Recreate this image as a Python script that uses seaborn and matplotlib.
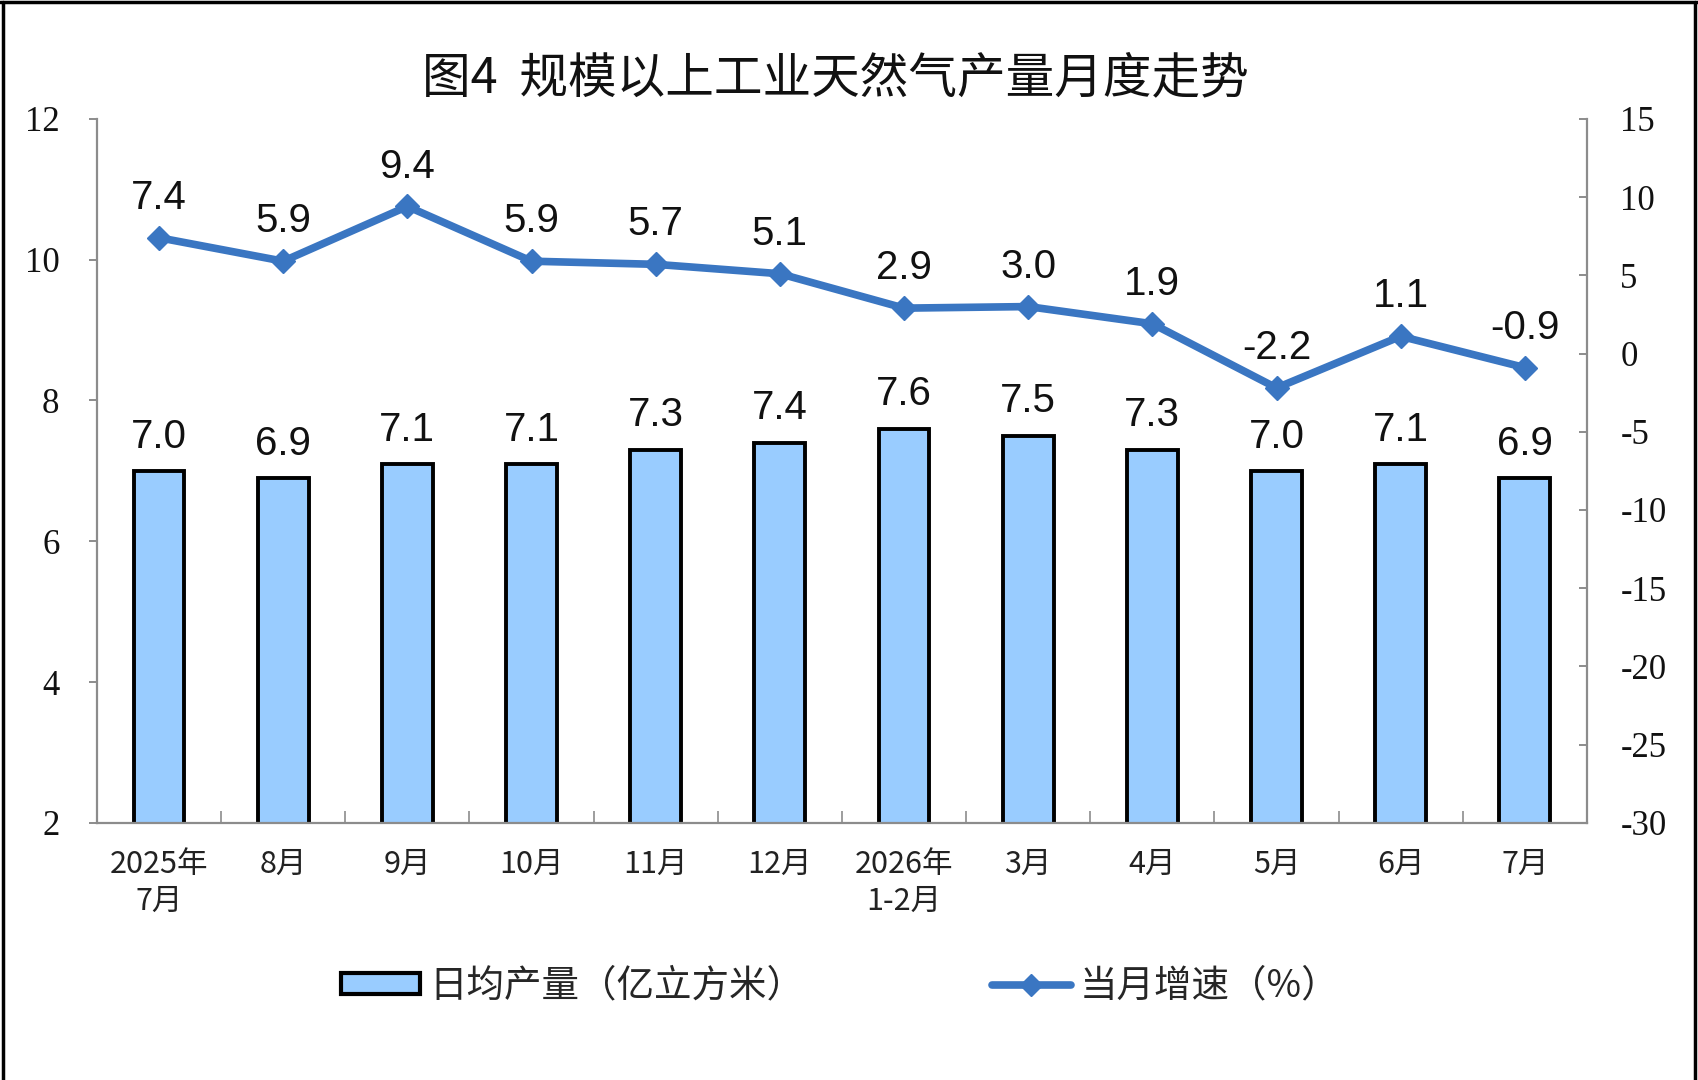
import numpy as np
import pandas as pd
import matplotlib
matplotlib.use("Agg")
import matplotlib.pyplot as plt
from matplotlib.lines import Line2D
from matplotlib.patches import Patch
from matplotlib.ticker import FixedLocator
import seaborn as sns

# ── Data ────────────────────────────────────────────────────────────────
months = ["2025年\n7月", "8月", "9月", "10月", "11月", "12月",
          "2026年\n1-2月", "3月", "4月", "5月", "6月", "7月"]
daily_output = [7.0, 6.9, 7.1, 7.1, 7.3, 7.4, 7.6, 7.5, 7.3, 7.0, 7.1, 6.9]
growth = [7.4, 5.9, 9.4, 5.9, 5.7, 5.1, 2.9, 3.0, 1.9, -2.2, 1.1, -0.9]
left_ticks = [2, 4, 6, 8, 10, 12]
right_ticks = [-30, -25, -20, -15, -10, -5, 0, 5, 10, 15]

title = "图4  规模以上工业天然气产量月度走势"
bar_name = "日均产量（亿立方米）"
line_name = "当月增速（%）"

BAR_COLOR = "#99CCFF"
LINE_COLOR = "#3A76C2"
AXIS_GRAY = "#8C8C8C"
CJK = ["Noto Sans CJK SC", "DejaVu Sans"]

sns.set_theme(style="white")
plt.rcParams['font.family'] = CJK

df = pd.DataFrame({"month": months, "output": daily_output, "growth": growth})

fig = plt.figure(figsize=(16.98, 10.8), dpi=100)
ax = fig.add_axes([0.0571, 0.238, 0.8775, 0.652])

sns.barplot(data=df, x="month", y="output", ax=ax, color=BAR_COLOR,
            width=0.41, edgecolor="black", linewidth=2.8, saturation=1)
ax.set_ylim(2, 12)
ax.set_xlim(-0.5, len(months) - 0.5)
ax.set_xlabel("")
ax.set_ylabel("")

for i, v in enumerate(daily_output):
    ax.annotate(f"{v:.1f}", (i, v), xytext=(0, 11), textcoords="offset points",
                ha="center", va="bottom", fontsize=29, family="Liberation Sans",
                color="#111111")

ax2 = ax.twinx()
ax2.plot(range(len(growth)), growth, color=LINE_COLOR, linewidth=5.5,
         marker="D", markersize=12, solid_capstyle="round")
ax2.set_ylim(-30, 15)
for i, v in enumerate(growth):
    ax2.annotate(f"{v:.1f}", (i, v), xytext=(0, 15), textcoords="offset points",
                 ha="center", va="bottom", fontsize=29, family="Liberation Sans",
                 color="#111111")

# ── Axes styling ────────────────────────────────────────────────────────
for a in (ax, ax2):
    for s in a.spines.values():
        s.set_visible(False)
ax.spines["left"].set_visible(True)
ax.spines["bottom"].set_visible(True)
ax2.spines["right"].set_visible(True)
for s in (ax.spines["left"], ax.spines["bottom"], ax2.spines["right"]):
    s.set_color(AXIS_GRAY)
    s.set_linewidth(1.6)

ax.set_yticks(left_ticks)
ax.set_yticklabels([str(t) for t in left_ticks], family="Liberation Serif",
                   fontsize=25, color="#111111")
ax.tick_params(axis="y", direction="out", length=6, width=1.4,
               color=AXIS_GRAY, pad=21, left=True)

ax2.set_yticks(right_ticks)
ax2.set_yticklabels([str(t) for t in right_ticks], family="Liberation Serif",
                    fontsize=25, color="#111111")
ax2.tick_params(axis="y", direction="in", length=6, width=1.4,
                color=AXIS_GRAY, pad=24, right=True)

ax.set_xticks(range(len(months)))
ax.set_xticklabels(months, fontsize=22, color="#222222", linespacing=1.25)
ax.tick_params(axis="x", length=0, pad=19)
ax.xaxis.set_minor_locator(FixedLocator(np.arange(0.5, len(months) - 1, 1)))
ax.tick_params(axis="x", which="minor", direction="in", length=9, width=1.2,
               color=AXIS_GRAY, bottom=True)

fig.text(0.492, 0.927, title, ha="center", va="center", fontsize=35,
         color="#111111")

handles = [Patch(facecolor=BAR_COLOR, edgecolor="black", linewidth=3),
           Line2D([0], [0], color=LINE_COLOR, linewidth=5.5, marker="D",
                  markersize=11)]
fig.legend(handles, [bar_name, line_name], loc="center", ncol=2,
           bbox_to_anchor=(0.495, 0.087), frameon=False, fontsize=27,
           handlelength=2.1, handleheight=0.5, handletextpad=0.25,
           columnspacing=5.0)

# outer frame (left, top, right)
for xs, ys in (([0.0015, 0.0015], [0, 0.998]), ([0, 1], [0.998, 0.998]),
               ([0.9985, 0.9985], [0, 0.998])):
    fig.add_artist(Line2D(xs, ys, transform=fig.transFigure, color="black",
                          linewidth=2.5))

fig.savefig("out.png", dpi=100)
